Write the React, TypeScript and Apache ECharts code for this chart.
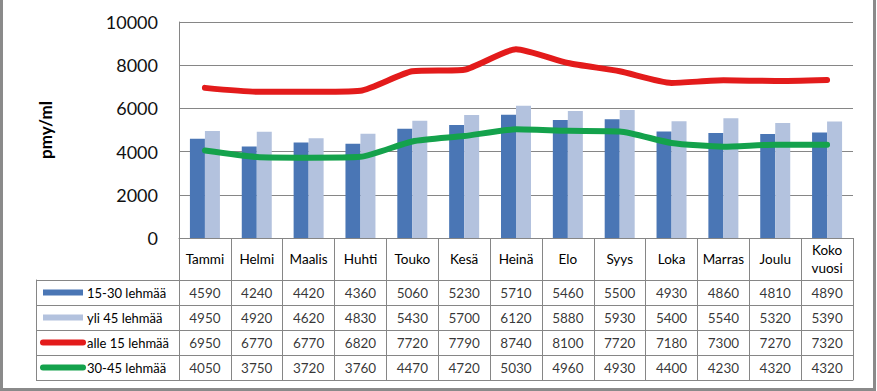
import React, { useEffect, useRef } from "react";
import * as echarts from "echarts";

const categories = ["Tammi", "Helmi", "Maalis", "Huhti", "Touko", "Kesä", "Heinä", "Elo", "Syys", "Loka", "Marras", "Joulu", "Koko\nvuosi"];
const seriesNames = ["15-30 lehmää", "yli 45 lehmää", "alle 15 lehmää", "30-45 lehmää"];
const s15to30 = [4590, 4240, 4420, 4360, 5060, 5230, 5710, 5460, 5500, 4930, 4860, 4810, 4890];
const sOver45 = [4950, 4920, 4620, 4830, 5430, 5700, 6120, 5880, 5930, 5400, 5540, 5320, 5390];
const sUnder15 = [6950, 6770, 6770, 6820, 7720, 7790, 8740, 8100, 7720, 7180, 7300, 7270, 7320];
const s30to45 = [4050, 3750, 3720, 3760, 4470, 4720, 5030, 4960, 4930, 4400, 4230, 4320, 4320];
const yMin = 0;
const yMax = 10000;
const yStep = 2000;
const yAxisTitle = "pmy/ml";

const FONT = "Lato, 'Open Sans', sans-serif";
const GRID_COLOR = "#868686";
const COLORS = ["#4A76B5", "#B3C2DE", "#E31B1B", "#14A24C"];
const KEY_KIND = ["bar", "bar", "line", "line"];

export default function App() {
  const ref = useRef<HTMLDivElement>(null);
  useEffect(() => {
    if (!ref.current) return;
    const chart = echarts.init(ref.current, undefined, { renderer: "svg" });
    const allSeries = [s15to30, sOver45, sUnder15, s30to45];
    const tableData: any[] = [];
    allSeries.forEach((arr, r) => {
      arr.forEach((v, i) => tableData.push([i, r, v]));
    });
    const rich: any = {
      sp: { width: 3, height: 6 },
      tb: { fontSize: 13, color: "#000", fontFamily: FONT, padding: [0, 0, 0, 4] },
      tl: { fontSize: 13, color: "#000", fontFamily: FONT, padding: [0, 0, 0, 1] },
    };
    COLORS.forEach((c, i) => {
      rich["k" + i] =
        KEY_KIND[i] === "bar"
          ? { width: 40, height: 6, backgroundColor: c }
          : { width: 46, height: 6, backgroundColor: c, borderRadius: 3 };
    });
    const keyLabel = (name: string, idx: number) =>
      KEY_KIND[idx] === "bar" ? `{sp|}{k${idx}|}{tb|${name}}` : `{k${idx}|}{tl|${name}}`;
    const lineAxis = { show: true, lineStyle: { color: GRID_COLOR, width: 1 } };
    const option: any = {
      animation: false,
      backgroundColor: "#ffffff",
      textStyle: { fontFamily: FONT },
      grid: [
        { left: 179, top: 22, width: 674, height: 216 },
        { left: 179, top: 280, width: 674, height: 100 },
        { left: 36, top: 280, width: 143, height: 100 },
      ],
      xAxis: [
        {
          type: "category",
          gridIndex: 0,
          data: categories,
          axisLine: lineAxis,
          axisTick: { show: true, interval: 0, length: 42, lineStyle: { color: GRID_COLOR } },
          axisLabel: { interval: 0, margin: 21, verticalAlign: "middle", fontSize: 13.5, lineHeight: 18, color: "#000", fontFamily: FONT },
          splitLine: { show: false },
        },
        {
          type: "category",
          gridIndex: 1,
          data: categories,
          axisLine: lineAxis,
          axisTick: { show: false },
          axisLabel: { show: false },
          splitLine: { show: true, interval: 0, lineStyle: { color: GRID_COLOR } },
        },
        { type: "value", gridIndex: 2, show: false },
      ],
      yAxis: [
        {
          type: "value",
          gridIndex: 0,
          min: yMin,
          max: yMax,
          interval: yStep,
          axisLine: lineAxis,
          axisTick: { show: false },
          axisLabel: { fontSize: 18, margin: 21, color: "#111", fontFamily: FONT, formatter: (v: number) => String(v) },
          splitLine: { show: true, lineStyle: { color: GRID_COLOR } },
          name: yAxisTitle,
          nameLocation: "middle",
          nameGap: 125,
          nameTextStyle: { fontSize: 17, fontWeight: "bold", color: "#000", fontFamily: FONT },
        },
        {
          type: "category",
          gridIndex: 1,
          data: seriesNames,
          inverse: true,
          axisLine: lineAxis,
          axisTick: { show: false },
          axisLabel: { show: false },
          splitLine: { show: true, interval: 0, lineStyle: { color: GRID_COLOR } },
        },
        {
          type: "category",
          gridIndex: 2,
          data: seriesNames,
          inverse: true,
          axisLine: lineAxis,
          axisTick: { show: false },
          axisLabel: {
            show: true,
            inside: true,
            margin: 4,
            interval: 0,
            align: "left",
            formatter: keyLabel,
            rich,
          },
          splitLine: { show: true, interval: 0, lineStyle: { color: GRID_COLOR } },
        },
      ],
      series: [
        { name: seriesNames[0], type: "bar", xAxisIndex: 0, yAxisIndex: 0, data: s15to30, barWidth: 15, barGap: "0%", itemStyle: { color: COLORS[0] } },
        { name: seriesNames[1], type: "bar", xAxisIndex: 0, yAxisIndex: 0, data: sOver45, barWidth: 15, barGap: "0%", itemStyle: { color: COLORS[1] } },
        { name: seriesNames[2], type: "line", xAxisIndex: 0, yAxisIndex: 0, data: sUnder15, symbol: "none", smooth: 0.2, color: COLORS[2], lineStyle: { width: 6, color: COLORS[2], cap: "round", join: "round" } },
        { name: seriesNames[3], type: "line", xAxisIndex: 0, yAxisIndex: 0, data: s30to45, symbol: "none", smooth: 0.2, color: COLORS[3], lineStyle: { width: 6, color: COLORS[3], cap: "round", join: "round" } },
        {
          name: "table",
          type: "scatter",
          xAxisIndex: 1,
          yAxisIndex: 1,
          data: tableData,
          symbolSize: 1,
          itemStyle: { color: "rgba(0,0,0,0)" },
          silent: true,
          label: {
            show: true,
            position: "inside",
            formatter: (p: any) => String(p.value[2]),
            fontSize: 13.5,
            color: "#000",
            fontFamily: FONT,
          },
        },
      ],
    };
    chart.setOption(option);
    return () => chart.dispose();
  }, []);
  return (
    <div style={{ position: "fixed", left: 0, top: 0, width: 877, height: 391, background: "#fff" }}>
      <div ref={ref} style={{ position: "absolute", left: 0, top: 0, width: 877, height: 391 }} />
      <div
        style={{
          position: "absolute",
          left: 0,
          top: 0,
          width: 876,
          height: 391,
          boxSizing: "border-box",
          borderLeft: "3px solid #8a8a8a",
          borderRight: "3px solid #8a8a8a",
          borderBottom: "3px solid #8a8a8a",
          pointerEvents: "none",
        }}
      />
    </div>
  );
}
